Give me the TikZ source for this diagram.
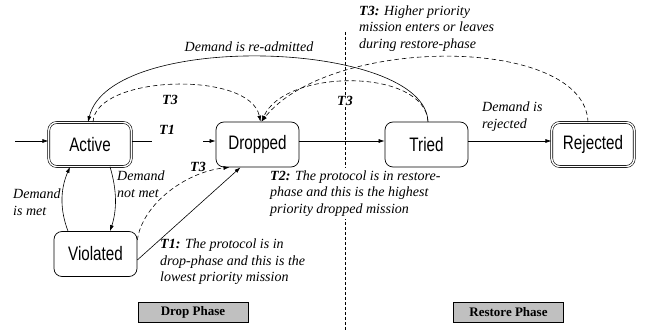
\documentclass[tikz,border=0pt]{standalone}
\usepackage{fontspec}
\setmainfont{Liberation Serif}
\newfontfamily\nodefont[FakeStretch=0.78]{Liberation Sans}
\usetikzlibrary{arrows.meta,calc}
\definecolor{phasegray}{RGB}{192,192,192}
\begin{document}
\begin{tikzpicture}[x=1pt,y=-1pt,
  state/.style={draw, rounded corners=8pt, line width=0.7pt, minimum width=83pt, minimum height=45pt, inner sep=0pt,
    font=\nodefont\fontsize{19.5}{22}\selectfont},
  dstate/.style={state, double, double distance=1.4pt, line width=0.6pt, minimum width=82.5pt, minimum height=44pt},
  arr/.style={line width=0.6pt, -{Latex[length=6pt,width=4pt]}},
  plain/.style={line width=0.6pt},
  dsh/.style={line width=0.6pt, dash pattern=on 4.5pt off 3pt},
  lbl/.style={font=\itshape\fontsize{14}{16.5}\selectfont, align=left, inner sep=0pt},
  tlbl/.style={font=\bfseries\itshape\fontsize{14}{16.5}\selectfont, inner sep=1.5pt},
  phase/.style={draw, fill=phasegray, line width=0.7pt, minimum width=110pt, minimum height=20pt, inner sep=0pt,
    font=\bfseries\fontsize{13}{15}\selectfont}
]
\useasboundingbox (0,0) rectangle (651,331);

% divider
\coordinate (dtop) at (345,32);
\coordinate (dbot) at (345,331);
\draw[line width=0.6pt, dash pattern=on 3pt off 2pt] (dtop) -- (dbot);

% states
\node[dstate] (A) at (90,144.5) {Active};
\node[state]  (D) at (257.5,144.5) {Dropped};
\node[state]  (T) at (426.5,144.5) {Tried};
\node[dstate] (R) at (593,144.5) {Rejected};
\node[state]  (V) at (95.5,254) {Violated};

% straight transitions
\coordinate (in) at (15,141);
\coordinate (t1a) at (152,141);
\coordinate (t1b) at (203,141);
\draw[arr] (in) -- (A.west |- in);
\draw[plain] (A.east |- t1a) -- (t1a);
\draw[arr] (t1b) -- (D.west |- t1b);
\draw[arr] (D.east |- t1a) -- (T.west |- t1a);
\draw[arr] (T.east |- t1a) -- (R.west |- t1a);

% active <-> violated
\draw[arr] ([xshift=20pt]A.south) .. controls (117,190) and (117,210) .. ([xshift=14.5pt]V.north);
\draw[arr] ([xshift=-27.5pt]V.north) .. controls (60,210) and (60,190) .. ([xshift=-20pt]A.south);

% violated -> dropped
\draw[arr] ([yshift=-6pt]V.east) -- ([xshift=-17pt]D.south);
\draw[dsh, -{Latex[length=6pt,width=4pt]}] ([yshift=14pt]V.east) .. controls (142,205) and (185,172) .. ([xshift=-28pt]D.south);

% big arcs
\draw[arr] ([xshift=1.5pt]T.north) .. controls (425,40) and (110,30) .. ([xshift=-2pt]A.north);
\draw[dsh, -{Latex[length=6pt,width=4pt]}] ([xshift=3pt]A.north) .. controls (95,75) and (250,70) .. ([xshift=3pt]D.north);
\draw[dsh, -{Latex[length=6pt,width=4pt]}] ([xshift=1.5pt]T.north) .. controls (425,68) and (285,68) .. ([xshift=4pt]D.north);
\draw[dsh, -{Latex[length=6pt,width=4pt]}] ([xshift=-5pt]R.north) .. controls (585,35) and (330,35) .. ([xshift=4pt]D.north);

% labels
\node[lbl, anchor=west] (l3) at (359,28.5) {\textbf{T3:} Higher priority\\mission enters or leaves\\during restore-phase};
\node[lbl] (lre) at (249,47) {Demand is re-admitted};
\node[tlbl] (t3a) at (170,100) {T3};
\node[tlbl, fill=white] (t3b) at (345,101) {T3};
\node[tlbl] (t3c) at (198,167) {T3};
\node[tlbl] (t1l) at (167,130) {T1};
\node[lbl, anchor=west] (lrej) at (482,116.5) {Demand is\\rejected};
\node[lbl, anchor=west, fill=white, inner ysep=3pt] (lt2) at (270,193.5) {\textbf{T2:} The protocol is in restore-\\phase and this is the highest\\priority dropped mission};
\node[lbl, anchor=west] (lt1) at (160,262) {\textbf{T1:} The protocol is in\\drop-phase and this is the\\lowest priority mission};
\node[lbl, anchor=west] (lnm) at (117,184) {Demand\\not met};
\node[lbl, anchor=west] (lm) at (13,202) {Demand\\is met};

% phases
\node[phase] (pd) at (193,312) {Drop Phase};
\node[phase] (pr) at (508.5,312) {Restore Phase};
\end{tikzpicture}
\end{document}
